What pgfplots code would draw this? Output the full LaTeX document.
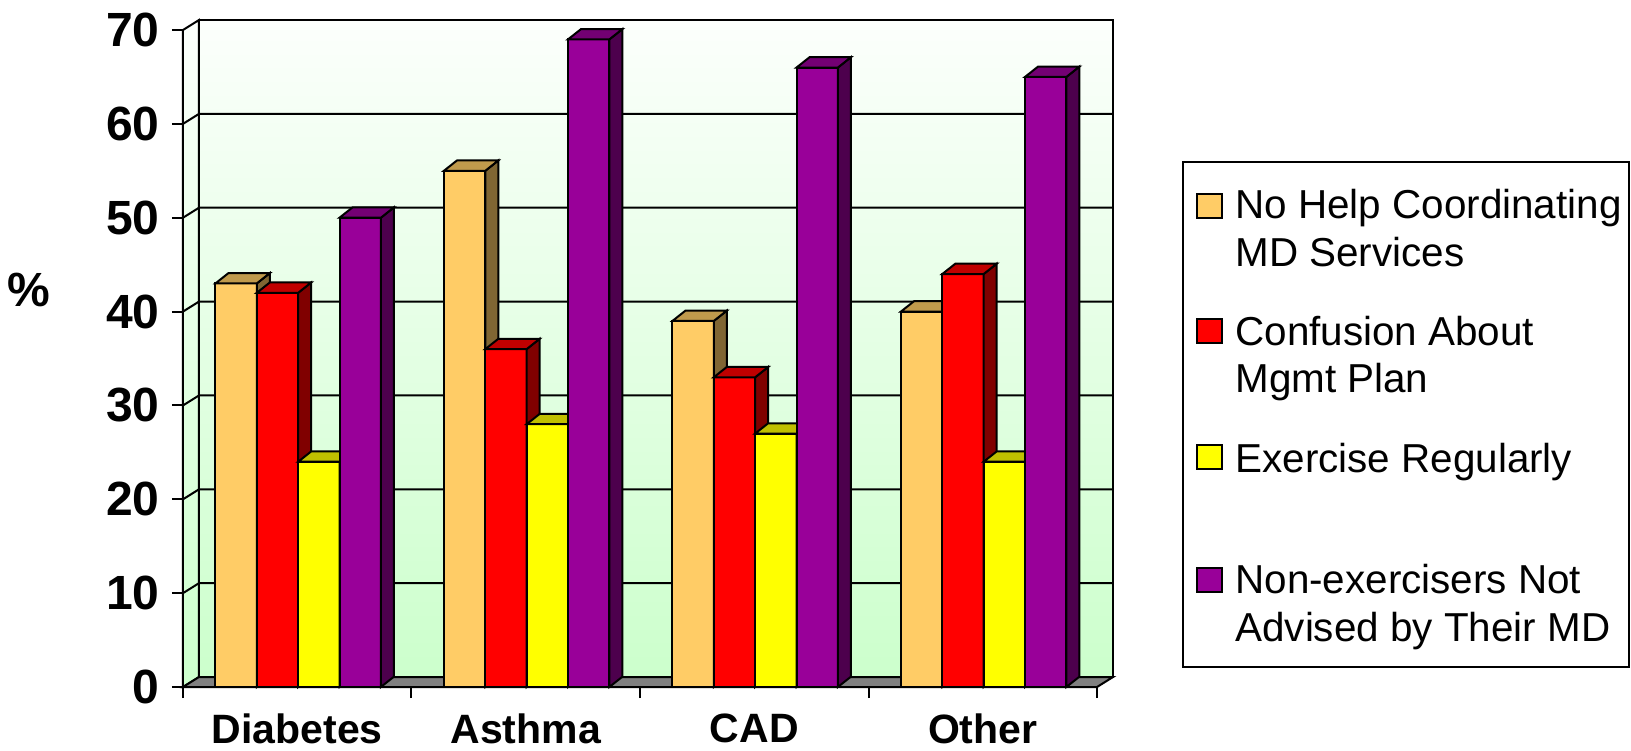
\documentclass[border=0pt]{standalone}
\usepackage{pgfplots}
\usepackage{pgfplotstable}
\pgfplotsset{compat=1.18}
\usepackage{fontspec}
\setmainfont{Liberation Sans}

% face colours: front, top, side for each series
\definecolor{front1}{HTML}{FFCC66}\definecolor{top1}{HTML}{C09A4C}\definecolor{side1}{HTML}{806633}
\definecolor{front2}{HTML}{FF0000}\definecolor{top2}{HTML}{C00000}\definecolor{side2}{HTML}{800000}
\definecolor{front3}{HTML}{FFFF00}\definecolor{top3}{HTML}{C0C000}\definecolor{side3}{HTML}{808000}
\definecolor{front4}{HTML}{990099}\definecolor{top4}{HTML}{730073}\definecolor{side4}{HTML}{4D004D}
\definecolor{wallTop}{HTML}{FCFFFC}
\definecolor{wallBottom}{HTML}{CCFFCC}
\definecolor{floorGray}{HTML}{808080}

% percentages by condition (x = 0 Diabetes, 1 Asthma, 2 CAD, 3 Other)
\pgfplotstableread{
x nohelp confusion exercise nonex
0 43 42 24 50
1 55 36 28 69
2 39 33 27 66
3 40 44 24 65
}\rates

% depth of the box
\def\wdx{0.07}\def\wdy{1.065}
% depth of the bars, width of one bar, left edge of a group
\def\bdx{0.057}\def\bdy{1.1}\def\bw{0.181}\def\gl{-0.358}

\begin{document}
\begin{tikzpicture}
\begin{axis}[
  at={(0,0)}, anchor=south west,
  scale only axis, width=457pt, height=328.5pt,
  xmin=-0.5, xmax=3.5, ymin=0, ymax=70,
  clip=false,
  axis x line*=bottom, axis y line*=left,
  axis line style={line width=1pt},
  tick align=outside,
  ytick={0,10,...,70},
  xtick={0,1,2,3},
  xticklabels={Diabetes,Asthma,CAD,Other},
  minor xtick={-0.5,0.5,1.5,2.5,3.5},
  major tick length=5.5pt, minor tick length=5.5pt,
  major x tick style={draw=none},
  every tick/.style={black, line width=1pt},
  minor x tick style={black, line width=1pt},
  /pgf/number format/assume math mode=true,
  yticklabel style={font=\bfseries\fontsize{24}{28}\selectfont, inner xsep=6pt},
  xticklabel style={font=\bfseries\fontsize{20.5}{24}\selectfont, yshift=-4.3pt},
]
% side wall and back wall
\edef\walls{%
  \noexpand\addplot[shade, top color=wallTop, bottom color=wallBottom, draw=black, line width=1pt, forget plot]
    coordinates {(-0.5,0) (-0.43,\wdy) (-0.43,71.065) (-0.5,70)} --cycle;
  \noexpand\addplot[shade, top color=wallTop, bottom color=wallBottom, draw=black, line width=1pt, forget plot]
    coordinates {(-0.43,\wdy) (3.57,\wdy) (3.57,71.065) (-0.43,71.065)} --cycle;
  \noexpand\addplot[fill=floorGray, draw=black, line width=1pt, forget plot]
    coordinates {(-0.5,0) (3.5,0) (3.57,\wdy) (-0.43,\wdy)} --cycle;
}
\walls
% gridlines on both walls
\pgfplotsinvokeforeach{10,20,...,60}{%
  \pgfmathsetmacro\gb{#1+\wdy}
  \edef\grid{\noexpand\addplot[black, line width=1pt, forget plot]
    coordinates {(-0.5,#1) (-0.43,\gb) (3.57,\gb)};}
  \grid
}
% bars: front faces, then sides and tops, series by series
\pgfplotsinvokeforeach{1,...,4}{%
  \pgfmathsetmacro\bs{\gl+\bw/2+(#1-1)*\bw}
  \edef\front{\noexpand\addplot[ybar, bar width=\bw, bar shift=\bs, fill=front#1,
      draw=black, line width=1pt, forget plot] table[x=x, y index=#1] {\noexpand\rates};}
  \front
  \foreach \r in {0,...,3}{%
    \pgfplotstablegetelem{\r}{[index]#1}\of\rates
    \let\v\pgfplotsretval
    \pgfmathsetmacro\xl{\r+\gl+(#1-1)*\bw}
    \pgfmathsetmacro\xr{\xl+\bw}
    \pgfmathsetmacro\xld{\xl+\bdx}
    \pgfmathsetmacro\xrd{\xr+\bdx}
    \pgfmathsetmacro\vd{\v+\bdy}
    \edef\faces{%
      \noexpand\addplot[fill=side#1, draw=black, line width=1pt, forget plot]
        coordinates {(\xr,0) (\xrd,\bdy) (\xrd,\vd) (\xr,\v)} --cycle;
      \noexpand\addplot[fill=top#1, draw=black, line width=1pt, forget plot]
        coordinates {(\xl,\v) (\xr,\v) (\xrd,\vd) (\xld,\vd)} --cycle;}
    \faces
  }
}
\end{axis}

% labels and legend, placed in pixel units of the page
\begin{scope}[shift={(-91.5pt,343.5pt)}, x=0.5pt, y=-0.5pt]
  \node[font=\bfseries\fontsize{24}{28}\selectfont] at (29,290) {\%};
  \draw[line width=1pt] (1183,162) rectangle (1629,667);
  \draw[fill=front1, line width=0.8pt] (1197,194) rectangle (1222,218);
  \draw[fill=front2, line width=0.8pt] (1197,319) rectangle (1222,343);
  \draw[fill=front3, line width=0.8pt] (1197,445) rectangle (1222,469);
  \draw[fill=front4, line width=0.8pt] (1197,568) rectangle (1222,592);
  \begin{scope}[every node/.style={anchor=base west, inner sep=0pt, font=\fontsize{20.2}{24}\selectfont}]
    \node at (1235,219) {No Help Coordinating};
    \node at (1235,267) {MD Services};
    \node at (1235,345) {Confusion About};
    \node at (1235,392) {Mgmt Plan};
    \node at (1235,472) {Exercise Regularly};
    \node at (1235,593) {Non-exercisers Not};
    \node at (1235,641) {Advised by Their MD};
  \end{scope}
  \pgfresetboundingbox
  \path[use as bounding box] (0,0) rectangle (1631,750);
\end{scope}
\end{tikzpicture}
\end{document}
